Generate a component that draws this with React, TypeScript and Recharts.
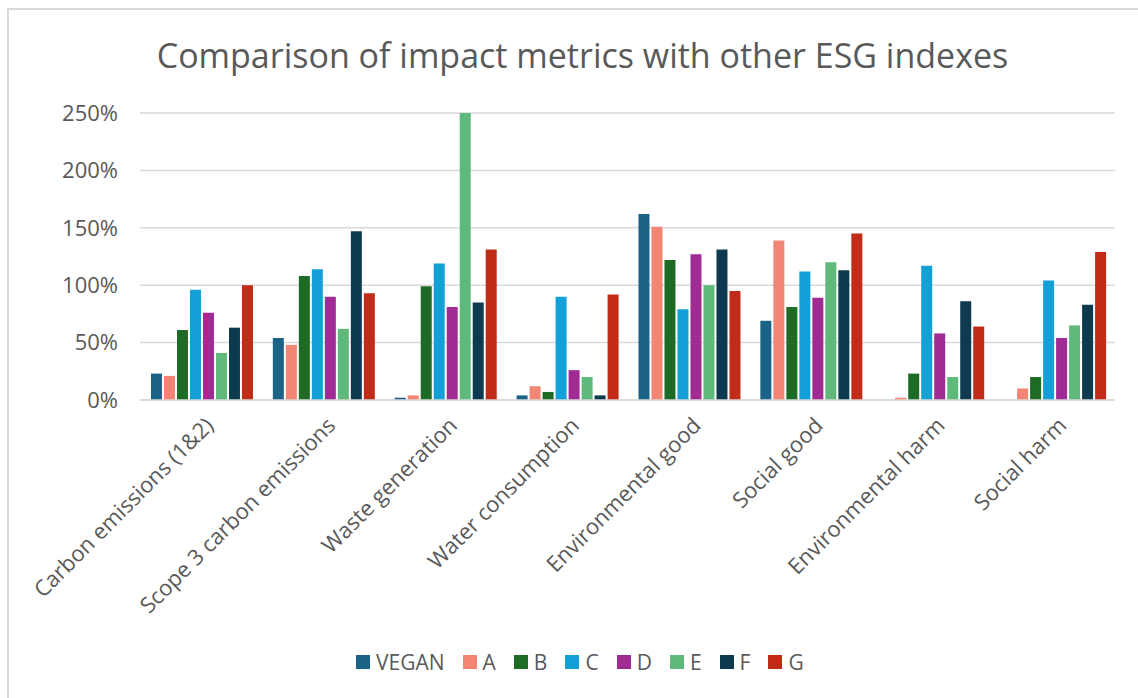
import React from "react";
import {
  Bar,
  BarChart,
  CartesianGrid,
  Legend,
  XAxis,
  YAxis,
} from "recharts";

const categories = [
  "Carbon emissions (1&2)",
  "Scope 3 carbon emissions",
  "Waste generation",
  "Water consumption",
  "Environmental good",
  "Social good",
  "Environmental harm",
  "Social harm",
];

const vegan = [23, 54, 2, 4, 162, 69, 0, 0];
const seriesA = [21, 48, 4, 12, 151, 139, 2, 10];
const seriesB = [61, 108, 99, 7, 122, 81, 23, 20];
const seriesC = [96, 114, 119, 90, 79, 112, 117, 104];
const seriesD = [76, 90, 81, 26, 127, 89, 58, 54];
const seriesE = [41, 62, 250, 20, 100, 120, 20, 65];
const seriesF = [63, 147, 85, 4, 131, 113, 86, 83];
const seriesG = [100, 93, 131, 92, 95, 145, 64, 129];

const yTicks = [0, 50, 100, 150, 200, 250];

const series = [
  { key: "VEGAN", values: vegan, color: "#1a6286" },
  { key: "A", values: seriesA, color: "#f28574" },
  { key: "B", values: seriesB, color: "#1d6b24" },
  { key: "C", values: seriesC, color: "#12a0d7" },
  { key: "D", values: seriesD, color: "#a02b92" },
  { key: "E", values: seriesE, color: "#5eb97b" },
  { key: "F", values: seriesF, color: "#0e3a50" },
  { key: "G", values: seriesG, color: "#c02c17" },
];

const data = categories.map((name, i) => {
  const row: any = { name };
  series.forEach((s) => {
    row[s.key] = s.values[i];
  });
  return row;
});

const FONT = "'Open Sans', sans-serif";
const TEXT = "#595959";

// rotated category labels, ending just right of the group centre
const AngledTick = (props: any) => {
  const { x, y, payload } = props;
  return (
    <g transform={`translate(${x + 9},${y + 14})`}>
      <text
        transform="rotate(-45)"
        textAnchor="end"
        fill={TEXT}
        fontSize={22}
        fontFamily={FONT}
        dy={7}
      >
        {payload.value}
      </text>
    </g>
  );
};

const LegendContent = () => (
  <div
    style={{
      display: "flex",
      justifyContent: "flex-start",
      alignItems: "center",
      height: 28,
      fontFamily: FONT,
      fontSize: 21,
      color: TEXT,
      paddingLeft: 356,
    }}
  >
    {series.map((s) => (
      <div
        key={s.key}
        style={{ display: "flex", alignItems: "center", marginRight: 18 }}
      >
        <span
          style={{
            width: 14,
            height: 14,
            background: s.color,
            display: "inline-block",
            marginRight: 6,
          }}
        />
        {s.key}
      </div>
    ))}
  </div>
);

const App: React.FC = () => {
  return (
    <div
      style={{
        position: "absolute",
        top: 0,
        left: 0,
        width: 1138,
        height: 698,
        background: "#fff",
        overflow: "hidden",
      }}
    >
      <div
        style={{
          position: "absolute",
          left: 7,
          top: 8,
          width: 1140,
          height: 700,
          borderTop: "2px solid #d9d9d9",
          borderLeft: "2px solid #d9d9d9",
        }}
      />
      <div
        style={{
          position: "absolute",
          top: 32,
          left: 0,
          width: 1165,
          textAlign: "center",
          fontFamily: FONT,
          fontSize: 34,
          color: TEXT,
        }}
      >
        Comparison of impact metrics with other ESG indexes
      </div>
      <BarChart
        width={1138}
        height={698}
        data={data}
        margin={{ top: 113, right: 23, left: 0, bottom: 22 }}
        barCategoryGap="9%"
        barGap={2}
      >
        <CartesianGrid vertical={false} stroke="#d9d9d9" strokeWidth={1.5} />
        <XAxis
          dataKey="name"
          interval={0}
          tick={<AngledTick />}
          tickLine={false}
          axisLine={{ stroke: "#d9d9d9", strokeWidth: 1.5 }}
          height={248}
        />
        <YAxis
          domain={[0, 250]}
          ticks={yTicks}
          tickFormatter={(v: number) => `${v}%`}
          tickLine={false}
          axisLine={false}
          width={140}
          tickMargin={16}
          tick={{ fill: TEXT, fontSize: 22, fontFamily: FONT }}
        />
        <Legend verticalAlign="bottom" content={<LegendContent />} />
        {series.map((s) => (
          <Bar
            key={s.key}
            dataKey={s.key}
            fill={s.color}
            isAnimationActive={false}
          />
        ))}
      </BarChart>
    </div>
  );
};

export default App;
